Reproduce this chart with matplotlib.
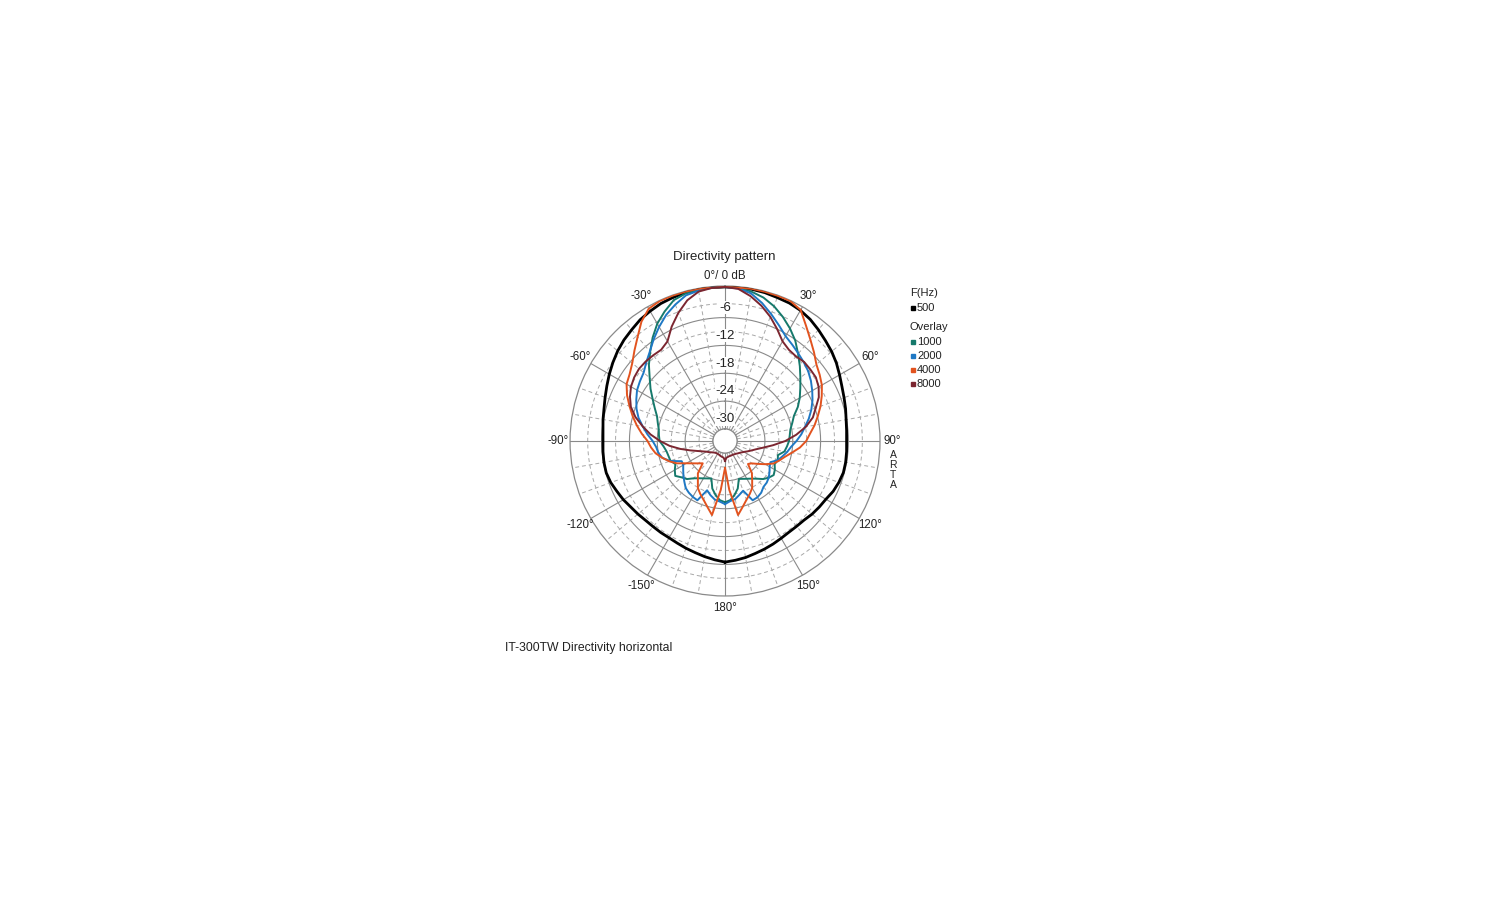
import numpy as np
import matplotlib.pyplot as plt
from matplotlib.lines import Line2D

plt.rcParams['font.family'] = ['Liberation Sans', 'DejaVu Sans']

# measurement angles in degrees (clockwise from on-axis), -180 .. 180
angles = np.arange(-180, 181, 5)

# level relative to on-axis, dB
spl_500 = [-6.5, -6.9, -7.3, -7.7, -8.0, -8.3, -8.5, -8.5, -8.5, -8.4, -8.1, -7.8, -7.3,
           -6.9, -6.4, -6.1, -6.1, -6.2, -6.3, -6.2, -5.9, -5.6, -5.1, -4.5, -3.8, -3.1,
           -2.4, -1.8, -1.3, -0.7, -0.3, 0.1, 0.3, 0.5, 0.6, 0.6, 0.6,
           0.6, 0.6, 0.5, 0.3, 0.2, -0.1, -0.6, -1.3, -2.0, -2.6, -3.3, -4.1, -4.8,
           -5.3, -5.7, -6.1, -6.3, -6.4, -6.3, -6.2, -6.2, -6.5, -6.9, -7.5, -7.8, -8.1,
           -8.5, -8.6, -8.6, -8.4, -8.1, -7.8, -7.5, -7.1, -6.8, -6.5]
spl_1000 = [-19.4, -19.8, -20.8, -22.0, -24.0, -23.7, -23.3, -22.8, -22.1, -21.0, -20.4, -19.5, -20.1,
            -20.8, -20.1, -20.0, -19.8, -19.3, -18.5, -18.3, -18.1, -17.6, -17.0, -15.9, -14.6, -13.0,
            -11.4, -9.4, -7.5, -5.4, -3.4, -1.8, -0.3, 0.3, 0.5, 0.6, 0.6,
            0.5, 0.1, -0.6, -1.7, -3.1, -4.6, -6.2, -8.1, -9.8, -11.4, -12.8, -14.0, -15.3,
            -16.8, -17.6, -18.3, -18.6, -18.8, -19.2, -19.6, -20.8, -20.5, -20.8, -20.2, -19.8, -20.3,
            -21.0, -22.0, -22.7, -23.2, -23.6, -23.9, -22.0, -20.8, -19.8, -19.4]
spl_2000 = [-19.0, -19.5, -19.8, -20.5, -21.3, -18.5, -18.7, -19.0, -19.4, -20.2, -20.9, -21.6, -22.2,
            -22.3, -20.0, -18.6, -18.0, -17.7, -17.0, -15.8, -14.6, -13.3, -12.3, -11.5, -10.7, -10.2,
            -9.7, -8.6, -7.4, -5.8, -4.2, -2.6, -1.3, -0.1, 0.3, 0.6, 0.6,
            0.4, -0.3, -1.8, -3.5, -5.1, -6.5, -7.3, -8.0, -8.6, -9.2, -10.0, -10.9, -11.8,
            -12.8, -13.9, -15.1, -16.1, -17.2, -18.3, -19.0, -19.8, -20.5, -21.8, -21.5, -20.9, -20.3,
            -19.9, -19.7, -19.0, -18.6, -18.5, -21.2, -20.6, -19.9, -19.6, -19.0]
spl_4000 = [-26.8, -22.0, -16.4, -17.9, -19.1, -20.0, -20.9, -22.4, -23.5, -25.8, -25.1, -24.2, -23.0,
            -21.2, -19.8, -18.6, -17.4, -16.6, -15.9, -14.6, -13.3, -12.0, -10.7, -9.3, -8.1, -7.5,
            -6.5, -5.0, -3.3, -1.2, 0.3, 0.7, 0.7, 0.7, 0.7, 0.6, 0.6,
            0.6, 0.7, 0.7, 0.7, 0.7, 0.0, -2.2, -4.0, -5.5, -6.9, -7.7, -8.5, -9.6,
            -10.7, -11.9, -13.0, -14.2, -15.1, -16.4, -18.0, -19.3, -20.2, -21.1, -22.6, -24.0, -25.1,
            -25.6, -23.6, -22.4, -20.9, -20.0, -19.1, -17.9, -16.4, -22.0, -26.8]
spl_8000 = [-28.3, -29.0, -29.1, -29.2, -29.3, -29.4, -29.4, -29.4, -29.3, -29.1, -28.8, -28.4, -28.0,
            -27.3, -26.3, -24.8, -22.8, -20.6, -18.6, -16.5, -14.6, -12.6, -11.0, -10.0, -9.2, -8.7,
            -8.4, -8.4, -8.5, -8.6, -7.8, -5.4, -3.2, -1.2, 0.1, 0.5, 0.6,
            0.3, -0.9, -2.4, -4.1, -6.0, -7.8, -8.6, -8.8, -8.5, -8.6, -8.7, -9.3, -10.3,
            -11.8, -13.0, -14.9, -17.2, -19.6, -22.2, -24.3, -25.7, -26.6, -27.3, -27.9, -28.3, -28.6,
            -28.8, -29.0, -29.1, -29.2, -29.2, -29.2, -29.2, -29.1, -29.0, -28.3]

freqs = ['500', '1000', '2000', '4000', '8000']
series = [spl_500, spl_1000, spl_2000, spl_4000, spl_8000]
colors = ['#000000', '#16796b', '#1f78c4', '#e2531f', '#7b2630']
widths = [2.0, 1.4, 1.4, 1.4, 1.4]

rings = [-6, -12, -18, -24, -30]
half_rings = [-3, -9, -15, -21, -27]
theta_labels = ['0°/ 0 dB', '30°', '60°', '90°', '120°', '150°', '180°',
                '-150°', '-120°', '-90°', '-60°', '-30°']

fig = plt.figure(figsize=(15, 9), dpi=100)
ax = fig.add_axes([0.38, 0.3378, 0.2067, 0.3444], projection='polar')
ax.set_theta_zero_location('N')
ax.set_theta_direction(-1)
ax.set_ylim(-30, 0.8)
ax.set_rorigin(-32.6)
ax.set_xticks([])
ax.set_yticks([])
ax.grid(False)
for s in ax.spines.values():
    s.set_color('#8a8a8a')
    s.set_linewidth(0.9)

grid_c = '#8a8a8a'
dash_c = '#a8a8a8'
th = np.linspace(0, 2 * np.pi, 721)
for lev in rings:
    ax.plot(th, np.full_like(th, lev), color=grid_c, lw=0.8, zorder=1)
for lev in half_rings:
    ax.plot(th, np.full_like(th, lev), color=dash_c, lw=0.7, ls=(0, (4, 3)), zorder=1)
for a in range(0, 360, 10):
    t = np.deg2rad(a)
    if a % 30 == 0:
        ax.plot([t, t], [-30, 0.8], color=grid_c, lw=0.8, zorder=1)
    else:
        ax.plot([t, t], [-30, 0.8], color=dash_c, lw=0.7, ls=(0, (4, 3)), zorder=1)

# ring labels along the 0° axis
for lev in rings:
    ax.text(0, lev + 2.1, str(lev), ha='center', va='center', fontsize=9.5, color='#222222',
            zorder=2, bbox=dict(facecolor='white', edgecolor='none', pad=0.3))

# angle labels outside the plot circle
for k, lab in enumerate(theta_labels):
    r_lab = 3.0 if k == 0 else 3.4
    ax.text(np.deg2rad(30 * k), r_lab, lab, ha='center', va='center', fontsize=8.3,
            color='#222222', clip_on=False)

rad = np.deg2rad(angles)
for vals, c, w in zip(series, colors, widths):
    ax.plot(rad, vals, color=c, lw=w, zorder=3)

fig.text(724 / 1500, 1 - 257 / 900, 'Directivity pattern', ha='center', va='center',
         fontsize=9.5, color='#222222')
fig.text(505 / 1500, 1 - 648 / 900, 'IT-300TW Directivity horizontal', ha='left', va='center',
         fontsize=8.8, color='#222222')
fig.text(893 / 1500, 1 - 450 / 900, 'A\nR\nT\nA', ha='center', va='top', fontsize=7.5,
         linespacing=1.0, color='#222222')

# legend
fig.text(910 / 1500, 1 - 293 / 900, 'F(Hz)', ha='left', va='center', fontsize=8, color='#222222')
fig.text(910 / 1500, 1 - 327 / 900, 'Overlay', ha='left', va='center', fontsize=8,
         color='#222222')
leg_y = [308, 342, 356, 370, 384]
for f, c, y in zip(freqs, colors, leg_y):
    fig.add_artist(Line2D([913 / 1500], [1 - y / 900], marker='s', ms=3.2, color=c, ls='none',
                          transform=fig.transFigure))
    fig.text(917 / 1500, 1 - y / 900, f, ha='left', va='center', fontsize=8, color='#222222')

fig.savefig('out.png', dpi=100, facecolor='white')
